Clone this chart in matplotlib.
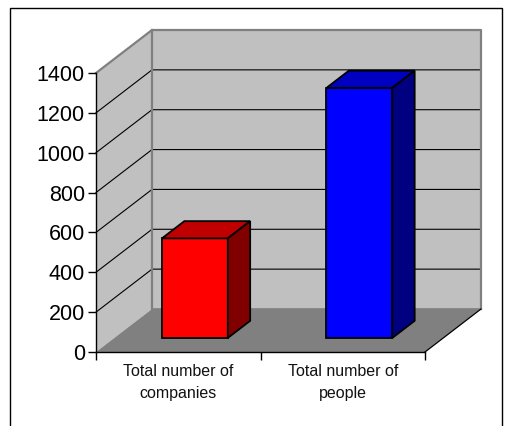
import matplotlib.pyplot as plt
from matplotlib.patches import Polygon, Rectangle

plt.rcParams['font.family'] = ['Liberation Sans', 'DejaVu Sans']

# chart data
categories = ['Total number of\ncompanies', 'Total number of\npeople']
values = [500, 1255]
front_colors = ['#FF0000', '#0000FF']
top_colors = ['#C00000', '#0000C0']
side_colors = ['#800000', '#000080']
y_ticks = [0, 200, 400, 600, 800, 1000, 1200, 1400]

W, H = 509, 426
fig = plt.figure(figsize=(W / 100, H / 100), dpi=100)

# front plane of the 3d box (pixels: x 96..425, y 352..73)
ax = fig.add_axes([96 / W, (H - 352) / H, (425 - 96) / W, (352 - 73) / H])
ax.set_xlim(-0.5, 1.5)
ax.set_ylim(0, 1400)
ax.patch.set_alpha(0)

# depth vector in data units (56 px right, 43 px up)
DX = 56 / 164.5
DY = 43 / (279 / 1400)
ymax = y_ticks[-1]


def off(x, y, d):
    return (x + d * DX, y + d * DY)


def poly(pts, fc, ec='none', lw=0, z=1):
    ax.add_patch(Polygon(pts, closed=True, facecolor=fc, edgecolor=ec,
                         linewidth=lw, clip_on=False, zorder=z, joinstyle='miter'))


x0, x1 = -0.5, 1.5
# left wall, back wall, floor
poly([off(x0, 0, 0), off(x0, 0, 1), off(x0, ymax, 1), off(x0, ymax, 0)], '#C0C0C0', z=0.5)
poly([off(x0, 0, 1), off(x1, 0, 1), off(x1, ymax, 1), off(x0, ymax, 1)], '#C0C0C0', z=0.5)
poly([off(x0, 0, 0), off(x1, 0, 0), off(x1, 0, 1), off(x0, 0, 1)], '#808080', z=0.6)

# gridlines on walls
for v in y_ticks[1:-1]:
    pts = [off(x0, v, 0), off(x0, v, 1), off(x1, v, 1)]
    ax.plot([p[0] for p in pts], [p[1] for p in pts], color='black', lw=0.8,
            clip_on=False, zorder=0.7)

# wall edges in gray
edge = [off(x0, ymax, 0), off(x0, ymax, 1), off(x1, ymax, 1), off(x1, 0, 1)]
ax.plot([p[0] for p in edge], [p[1] for p in edge], color='#808080', lw=1.6,
        clip_on=False, zorder=0.8)
ax.plot(*zip(off(x0, 0, 1), off(x0, ymax, 1)), color='#808080', lw=1.6,
        clip_on=False, zorder=0.8)
ax.plot(*zip(off(x0, 0, 1), off(x1, 0, 1)), color='#808080', lw=1.2,
        clip_on=False, zorder=0.8)
ax.plot(*zip(off(x1, 0, 0), off(x1, 0, 1)), color='black', lw=0.9,
        clip_on=False, zorder=0.8)

# bars
bw = 0.4
d0, d1 = 0.326, 0.726
for i, v in enumerate(values):
    l, r = i - 0.01 - bw / 2, i - 0.01 + bw / 2
    poly([off(l, 0, d0), off(r, 0, d0), off(r, v, d0), off(l, v, d0)],
         front_colors[i], 'black', 1.3, z=2)
    poly([off(l, v, d0), off(r, v, d0), off(r, v, d1), off(l, v, d1)],
         top_colors[i], 'black', 1.3, z=2)
    poly([off(r, 0, d0), off(r, 0, d1), off(r, v, d1), off(r, v, d0)],
         side_colors[i], 'black', 1.3, z=2)

# axes
for s in ['top', 'right']:
    ax.spines[s].set_visible(False)
for s in ['left', 'bottom']:
    ax.spines[s].set_linewidth(1.0)
    ax.spines[s].set_zorder(3)
ax.set_yticks(y_ticks)
ax.tick_params(axis='y', direction='out', length=6, width=1.0, labelsize=15.5, pad=2)
ax.set_xticks([-0.5, 0.5, 1.5])
ax.set_xticklabels([])
ax.tick_params(axis='x', which='major', direction='out', length=6, width=1.0)
ax.set_xticks([0, 1], labels=categories, minor=True)
ax.tick_params(axis='x', which='minor', length=0, labelsize=11.5, pad=9)
for t in ax.get_xticklabels(minor=True):
    t.set_linespacing(1.55)
    t.set_color('#111111')

# outer frame
fig.add_artist(Rectangle((10 / W, -0.05), (502 - 10) / W, (H - 8) / H + 0.05,
                         transform=fig.transFigure, fill=False,
                         edgecolor='black', linewidth=1.0))

fig.savefig('out.png', dpi=100)
